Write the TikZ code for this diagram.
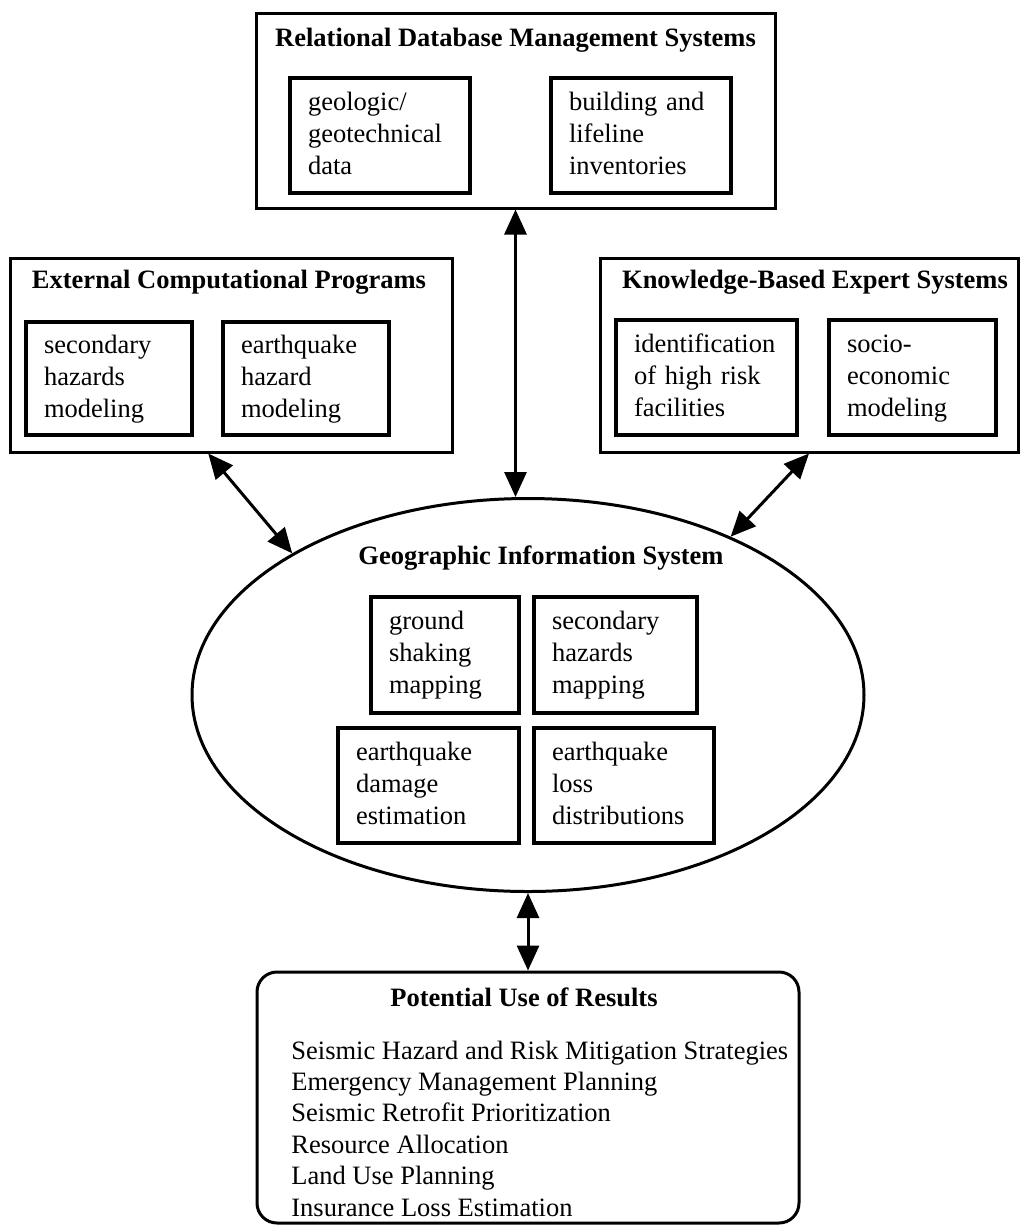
\documentclass[tikz,border=0pt]{standalone}
\usepackage{fontspec}
\setmainfont{Liberation Serif}
\usetikzlibrary{arrows.meta,shapes.geometric}
\newcommand{\figfont}{\fontsize{13.25}{16}\selectfont}

\begin{document}
\begin{tikzpicture}[x=0.5pt, y=-0.5pt,
    group/.style={rectangle, draw, line width=1.5pt, inner sep=0pt},
    head/.style={font=\figfont\bfseries, inner sep=0pt},
    item/.style={rectangle, draw, line width=1.75pt, align=left, font=\figfont, inner xsep=9pt, inner ysep=0pt, text height=10pt, text depth=35.5pt, minimum height=57.5pt, text width=#1},
    arrow/.style={{Triangle[length=12.5pt,width=11pt]}-{Triangle[length=12.5pt,width=11pt]}, line width=1.5pt}
]
\useasboundingbox (0,0) rectangle (1021,1228);

% Database Layer
\node[group, minimum width=259.5pt, minimum height=97.5pt] (rdbms) at (515.5,110.5) {};
\node[head] (rdbmshead) at (515.5,40) {Relational Database Management Systems};
\node[item=72pt] (geodata) at (380,135.5) {geologic/\\geotechnical\\data};
\node[item=72pt] (inventory) at (641,135.5) {building and\\lifeline\\inventories};

% External Programs
\node[group, minimum width=221pt, minimum height=97pt] (extprog) at (231,355) {};
\node[head] (extproghead) at (229,282) {External Computational Programs};
\node[item=65pt, minimum height=56.5pt] (secmodel) at (109,378.5) {secondary\\hazards\\modeling};
\node[item=65pt, minimum height=56.5pt] (eqmodel) at (306,378.5) {earthquake\\hazard\\modeling};

% Expert Systems
\node[group, minimum width=209pt, minimum height=97pt] (expert) at (809,355) {};
\node[head] (experthead) at (815,282) {Knowledge-Based Expert Systems};
\node[item=72.5pt] (highrisk) at (706.5,377.5) {identification\\of high risk\\facilities};
\node[item=65.5pt] (socio) at (912.5,377.5) {socio-\\economic\\modeling};

% GIS
\node[ellipse, draw, line width=1.5pt, inner sep=0pt, minimum width=336pt, minimum height=196.5pt] (gis) at (528,695) {};
\node[head] (gishead) at (541,558) {Geographic Information System};
\node[item=56pt, minimum height=58pt] (shaking) at (445,655) {ground\\shaking\\mapping};
\node[item=63.5pt, minimum height=58pt] (secmap) at (615.5,655) {secondary\\hazards\\mapping};
\node[item=72.5pt] (damage) at (428.5,785.5) {earthquake\\damage\\estimation};
\node[item=72pt] (loss) at (624,785.5) {earthquake\\loss\\distributions};

% Results
\node[group, rounded corners=10pt, minimum width=271pt, minimum height=125.5pt] (results) at (528,1097.5) {};
\node[head] (resultshead) at (524,997) {Potential Use of Results};
\node[anchor=west, align=left, inner sep=0pt, font=\fontsize{13.25}{15.7}\selectfont] (uses) at (291,1128.5)
    {Seismic Hazard and Risk Mitigation Strategies\\Emergency Management Planning\\Seismic Retrofit Prioritization\\Resource Allocation\\Land Use Planning\\Insurance Loss Estimation};

% Connections
\draw[arrow] (rdbms.south) -- (rdbms.south |- gis.north);
\draw[arrow] (extprog.-103) -- (gis.149);
\draw[arrow] (expert.-90) -- (gis.38);
\draw[arrow] (gis.south) -- (results.north);

\end{tikzpicture}
\end{document}
